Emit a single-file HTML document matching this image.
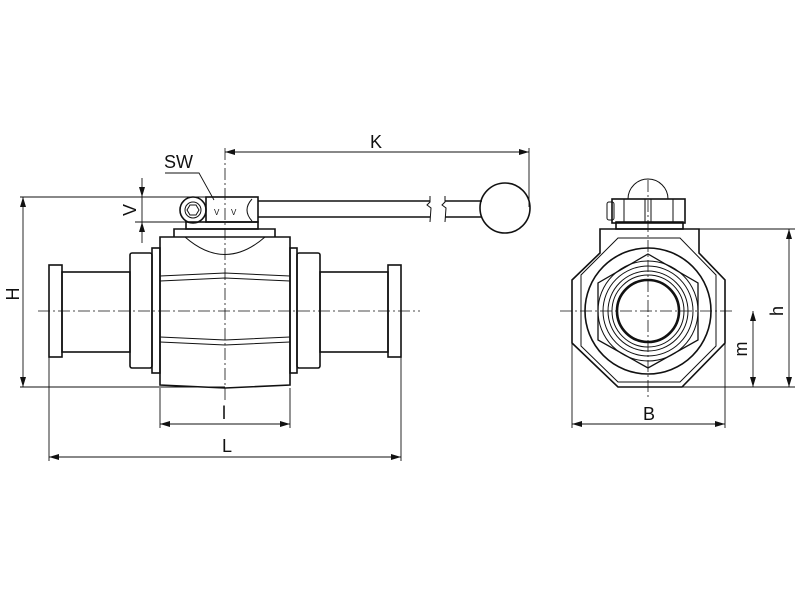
<!DOCTYPE html>
<html><head><meta charset="utf-8"><style>
html,body{margin:0;padding:0;background:#fff}
svg{display:block}
text{font-family:"Liberation Sans",sans-serif;fill:#111}
.big{font-size:18px}
</style></head><body>
<svg width="800" height="600" viewBox="0 0 800 600" xmlns="http://www.w3.org/2000/svg">
<defs>
<marker id="a" viewBox="0 0 10 6" refX="10" refY="3" markerWidth="10" markerHeight="6" orient="auto-start-reverse" markerUnits="userSpaceOnUse"><path d="M0,0L10,3L0,6z" fill="#111"/></marker>
</defs>
<g fill="none" stroke="#111" stroke-width="1">
<g stroke-dasharray="12,3,2,3" stroke-width="0.8">
<line x1="38" y1="311" x2="420" y2="311"/>
<line x1="225" y1="148" x2="225" y2="400"/>
<line x1="560" y1="311" x2="735" y2="311"/>
<line x1="648" y1="180" x2="648" y2="400"/>
</g>
<g stroke-width="1.6">
<rect x="49" y="265" width="13" height="92"/>
<rect x="388" y="265" width="13" height="92"/>
<rect x="62" y="272" width="68" height="80"/>
<rect x="320" y="272" width="68" height="80"/>
<rect x="130" y="253" width="22" height="115" rx="2"/>
<rect x="297" y="253" width="23" height="115" rx="2"/>
<rect x="152" y="248" width="8" height="125"/>
<rect x="290" y="248" width="7" height="125"/>
<path d="M160,237 L290,237 L290,385 L225,388 L160,385 Z"/>
<path d="M174,237 L174,229 L275,229 L275,237"/>
<rect x="186" y="222" width="72" height="7"/>
<rect x="206" y="197" width="52" height="25"/>
<circle cx="193" cy="210" r="13"/>
</g>
<circle cx="193" cy="210" r="8"/>
<path d="M187,210 l3,-5 h6 l3,5 l-3,5 h-6z"/>
<path d="M252,199 q-10,11 0,22"/>
<path d="M185,237 q40,35 80,0"/>
<path d="M160,276 L225,273 L290,276 M160,281 L225,278 L290,281"/>
<path d="M160,337 L225,340 L290,337 M160,342 L225,345 L290,342"/>
<g stroke-width="1.6">
<path d="M258,201 H430 M258,217 H430 M445,201 H482 M445,217 H482"/>
<circle cx="505" cy="208" r="25"/>
</g>
<path d="M430,196 l0,6 l-3,3 l4,3 l-1,14 M445,196 l0,6 l-3,3 l4,3 l-1,14"/>
<g stroke-width="0.9">
<line x1="20" y1="197" x2="206" y2="197"/>
<line x1="20" y1="387" x2="225" y2="387"/>
<line x1="23" y1="197" x2="23" y2="387" marker-start="url(#a)" marker-end="url(#a)"/>
<line x1="135" y1="222" x2="186" y2="222"/>
<line x1="142" y1="178" x2="142" y2="197" marker-end="url(#a)"/>
<line x1="142" y1="222" x2="142" y2="243" marker-start="url(#a)"/>
<line x1="142" y1="197" x2="142" y2="222"/>
<line x1="160" y1="388" x2="160" y2="428"/>
<line x1="290" y1="388" x2="290" y2="428"/>
<line x1="160" y1="424" x2="290" y2="424" marker-start="url(#a)" marker-end="url(#a)"/>
<line x1="49" y1="357" x2="49" y2="461"/>
<line x1="401" y1="357" x2="401" y2="461"/>
<line x1="49" y1="457" x2="401" y2="457" marker-start="url(#a)" marker-end="url(#a)"/>
<line x1="225" y1="152" x2="529" y2="152" marker-start="url(#a)" marker-end="url(#a)"/>
<line x1="529" y1="148" x2="529" y2="207"/>
<path d="M165,173 H199 L214,200"/>
</g>
<g stroke-width="1.6">
<path d="M600,253 L600,229 L699,229 L699,253 L725,280 L725,343 L682,387 L618,387 L572,343 L572,280 Z"/>
<circle cx="648" cy="311" r="63"/>
<circle cx="648" cy="311" r="31" stroke-width="2.6"/>
<rect x="616" y="222" width="67" height="7"/>
<rect x="612" y="199" width="73" height="24"/>
</g>
<path d="M618,238 L680,238 L716,275 L716,346 L680,382 L618,382 L581,346 L581,275 Z"/>
<path d="M648,254 L698,283 L698,340 L648,368 L598,340 L598,283 Z" stroke-width="1.3"/>
<circle cx="648" cy="311" r="50"/>
<circle cx="648" cy="311" r="45"/>
<circle cx="648" cy="311" r="40"/>
<circle cx="648" cy="311" r="36"/>
<path d="M628,199 a20,20 0 0 1 40,0"/>
<path d="M624,199 V223 M673,199 V223 M645,199 V223 M651,199 V223"/>
<rect x="607" y="202" width="7" height="18" rx="2"/>
<g stroke-width="0.9">
<line x1="699" y1="229" x2="795" y2="229"/>
<line x1="682" y1="387" x2="795" y2="387"/>
<line x1="789" y1="229" x2="789" y2="387" marker-start="url(#a)" marker-end="url(#a)"/>
<line x1="753" y1="311" x2="753" y2="387" marker-start="url(#a)" marker-end="url(#a)"/>
<line x1="572" y1="343" x2="572" y2="428"/>
<line x1="725" y1="343" x2="725" y2="428"/>
<line x1="572" y1="424" x2="725" y2="424" marker-start="url(#a)" marker-end="url(#a)"/>
</g>
</g>
<g class="big" style="font-size:18px">
<text x="370" y="148">K</text>
<text x="164" y="168">SW</text>
<text x="222" y="419">l</text>
<text x="222" y="452">L</text>
<text x="643" y="420">B</text>
<text transform="translate(19,294) rotate(-90)" text-anchor="middle">H</text>
<text transform="translate(136,210) rotate(-90)" text-anchor="middle">V</text>
<text transform="translate(783,311) rotate(-90)" text-anchor="middle">h</text>
<text transform="translate(747,349) rotate(-90)" text-anchor="middle">m</text>
</g>
<g style="font-size:8px"><text x="214" y="215">V</text><text x="231" y="215">V</text></g>
</svg>
</body></html>
